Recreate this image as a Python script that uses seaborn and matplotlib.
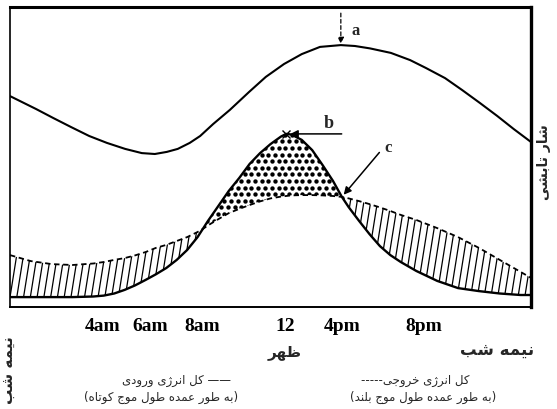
import numpy as np
import matplotlib
matplotlib.use("Agg")
import matplotlib.pyplot as plt
from matplotlib.collections import LineCollection
import seaborn as sns

# محور افقی: واحد دلخواه 0..100 (فاصله ساعت‌ها در شکل اصلی نامنظم است)
x_top = [0, 5.0, 8.3, 11.7, 15.2, 18.6, 22.1, 25.3, 27.8, 30.1, 32.2, 34.5, 36.5, 39.0, 42.2,
         45.9, 49.1, 52.6, 56.0, 59.5, 63.5, 66.2, 69.1, 73.1, 76.8, 79.8, 83.5, 86.8, 90.2,
         93.5, 96.7, 100]
y_top = [70.3, 66.0, 63.0, 60.0, 57.0, 54.7, 52.7, 51.3, 51.0, 51.7, 52.7, 54.7, 57.0, 61.0,
         65.7, 71.7, 76.7, 81.0, 84.3, 86.7, 87.3, 87.0, 86.2, 84.7, 82.3, 79.7, 76.3, 72.3,
         68.0, 63.7, 59.3, 55.0]

x_low = [0, 4, 8, 12, 16, 18, 20, 22, 24, 26, 28, 30, 32, 34, 36, 37, 38, 40, 42, 44, 46, 48,
         50, 52, 53, 54, 56, 58, 60, 62, 63.7, 65, 67, 69, 71, 73, 75, 78, 82, 86, 90, 94, 98, 100]
# کل انرژی ورودی (خط پیوسته)
y_in = [3.3, 3.3, 3.3, 3.3, 3.5, 3.8, 4.5, 5.7, 7.2, 9.0, 10.9, 13.0, 15.7, 19.0, 23.3, 26.0,
        28.7, 33.7, 38.7, 43.0, 47.7, 51.3, 54.3, 56.8, 57.7, 57.5, 55.7, 52.3, 47.3, 42.0,
        36.7, 33.3, 28.7, 24.3, 20.3, 17.3, 15.0, 12.0, 8.7, 6.3, 5.3, 4.5, 4.0, 4.0]
# کل انرژی خروجی (خط چین)
y_out = [17.3, 15.3, 14.3, 14.0, 14.5, 15.0, 15.7, 16.3, 17.2, 18.3, 19.7, 20.7, 22.0, 23.3,
         25.0, 26.0, 27.2, 29.3, 31.3, 32.7, 34.0, 35.2, 36.2, 36.8, 37.0, 37.2, 37.3, 37.3,
         37.2, 37.0, 36.7, 36.2, 35.3, 34.3, 33.2, 32.0, 30.7, 29.0, 26.3, 23.3, 19.7, 15.7,
         11.7, 9.7]

tick_pos = [17.8, 26.9, 36.8, 52.8, 63.7, 79.5]
tick_labels = ['4am', '6am', '8am', '12', '4pm', '8pm']

# حروف فارسی -> شکل‌های نمایشی (جدا، پایانی، آغازی، میانی)
FORMS = {
    'ا': (0xFE8D, 0xFE8E), 'د': (0xFEA9, 0xFEAA), 'ر': (0xFEAD, 0xFEAE),
    'ژ': (0xFB8A, 0xFB8B), 'و': (0xFEED, 0xFEEE),
    'ب': (0xFE8F, 0xFE90, 0xFE91, 0xFE92), 'ت': (0xFE95, 0xFE96, 0xFE97, 0xFE98),
    'ج': (0xFE9D, 0xFE9E, 0xFE9F, 0xFEA0), 'خ': (0xFEA5, 0xFEA6, 0xFEA7, 0xFEA8),
    'ش': (0xFEB5, 0xFEB6, 0xFEB7, 0xFEB8), 'ط': (0xFEC1, 0xFEC2, 0xFEC3, 0xFEC4),
    'ظ': (0xFEC5, 0xFEC6, 0xFEC7, 0xFEC8), 'ع': (0xFEC9, 0xFECA, 0xFECB, 0xFECC),
    'ک': (0xFB8E, 0xFB8F, 0xFB90, 0xFB91), 'ل': (0xFEDD, 0xFEDE, 0xFEDF, 0xFEE0),
    'م': (0xFEE1, 0xFEE2, 0xFEE3, 0xFEE4), 'ن': (0xFEE5, 0xFEE6, 0xFEE7, 0xFEE8),
    'ه': (0xFEE9, 0xFEEA, 0xFEEB, 0xFEEC), 'ی': (0xFBFC, 0xFBFD, 0xFBFE, 0xFBFF),
}


def fa(text):
    # matplotlib حروف را به هم نمی‌چسباند و راست به چپ نمی‌نویسد
    out = []
    for i, ch in enumerate(text):
        f = FORMS.get(ch)
        if f is None:
            out.append(ch)
            continue
        prev = text[i - 1] if i > 0 else ''
        nxt = text[i + 1] if i + 1 < len(text) else ''
        jp = prev in FORMS and len(FORMS[prev]) == 4
        jn = len(f) == 4 and nxt in FORMS
        if jp and jn:
            out.append(chr(f[3]))
        elif jp:
            out.append(chr(f[1]))
        elif jn:
            out.append(chr(f[2]))
        else:
            out.append(chr(f[0]))
    return ''.join(out)[::-1].translate(str.maketrans('()', ')('))


sns.set_style('white')
plt.rcParams['font.family'] = ['DejaVu Sans']
serif = 'Liberation Serif'

fig = plt.figure(figsize=(5.57, 4.10), dpi=100)
ax = fig.add_axes([10 / 557, 102 / 410, 521 / 557, 300 / 410])

sns.lineplot(x=x_top, y=y_top, color='black', linewidth=1.5, ax=ax)
sns.lineplot(x=x_low, y=y_in, color='black', linewidth=1.7, ax=ax)
sns.lineplot(x=x_low, y=y_out, color='black', linewidth=1.3, linestyle=(0, (3, 2)), ax=ax)

xl = np.array(x_low)
yi = np.array(y_in)
yo = np.array(y_out)
i_8 = np.flatnonzero((yi == yo) & (xl < 50))[0]
i_c = np.flatnonzero((yi == yo) & (xl > 50))[0]

# نواحی هاشور (خروجی بیشتر از ورودی)
left = ax.fill_between(xl, yi, yo, where=xl <= xl[i_8], facecolor='none', lw=0)
right = ax.fill_between(xl, yi, yo, where=xl >= xl[i_c], facecolor='none', lw=0)
segs = [[(x, 0), (x + 9.2, 100)] for x in np.arange(-12, 100, 1.3)]
for reg in (left, right):
    lc = LineCollection(segs, colors='black', linewidths=0.9)
    ax.add_collection(lc)
    lc.set_clip_path(reg.get_paths()[0], ax.transData)

# ناحیه نقطه‌چین (ورودی بیشتر از خروجی)
mid = ax.fill_between(xl, yi, yo, where=(xl >= xl[i_8]) & (xl <= xl[i_c]), facecolor='none', lw=0)
gx, gy = np.meshgrid(np.arange(34, 67, 1.3), np.arange(20, 62, 2.2))
gx = gx + (np.arange(gy.shape[0]) % 2)[:, None] * 0.65
dots = ax.scatter(gx.ravel(), gy.ravel(), s=10, color='black', lw=0)
dots.set_clip_path(mid.get_paths()[0], ax.transData)

# پیکان‌ها و برچسب‌های a, b, c
i_a = int(np.argmax(y_top))
ax.annotate('', xy=(x_top[i_a], y_top[i_a]), xytext=(0, 23), textcoords='offset points',
            arrowprops=dict(arrowstyle='-|>', color='black', lw=0.9, linestyle=(0, (3, 2)),
                            shrinkA=0, shrinkB=1, mutation_scale=9))
ax.annotate('a', xy=(x_top[i_a], y_top[i_a]), xytext=(8, 11), textcoords='offset points',
            fontsize=12, fontweight='bold', family=serif, ha='left', va='center')

i_b = int(np.argmax(y_in))
ax.plot(x_low[i_b], y_in[i_b], marker='x', ms=6, mew=1.0, color='black')
ax.annotate('', xy=(x_low[i_b], y_in[i_b]), xytext=(40, 0), textcoords='offset points',
            arrowprops=dict(arrowstyle='-|>', color='black', lw=1.1, shrinkA=0, shrinkB=3,
                            mutation_scale=11))
ax.annotate('b', xy=(x_low[i_b], y_in[i_b]), xytext=(31, 8), textcoords='offset points',
            fontsize=13, fontweight='bold', family=serif, ha='center', va='center')

ax.annotate('', xy=(x_low[i_c], y_in[i_c]), xytext=(27, 32), textcoords='offset points',
            arrowprops=dict(arrowstyle='-|>', color='black', lw=1.1, shrinkA=0, shrinkB=2,
                            mutation_scale=11))
ax.annotate('c', xy=(x_low[i_c], y_in[i_c]), xytext=(33, 36), textcoords='offset points',
            fontsize=12, fontweight='bold', family=serif, ha='center', va='center')

ax.set_xlim(0, 100)
ax.set_ylim(0, 100)
ax.set_xlabel('')
ax.set_ylabel('')
ax.set_yticks([])
ax.set_xticks(tick_pos)
ax.set_xticklabels(tick_labels, fontsize=14, fontweight='bold', family=serif)
ax.tick_params(axis='x', direction='inout', length=12, width=1.0, pad=1, colors='black')
for t, lab in zip(ax.xaxis.get_major_ticks(), tick_labels):
    t.tick1line.set_markeredgewidth(2.2 if lab in ('4am', '6am', '4pm') else 1.0)

for side, lw in [('top', 2.2), ('right', 2.4), ('left', 1.2), ('bottom', 1.4)]:
    ax.spines[side].set_visible(True)
    ax.spines[side].set_color('black')
    ax.spines[side].set_linewidth(lw)

ax.annotate(fa('ظهر'), xy=(tick_pos[3], 0), xycoords=('data', 'axes fraction'),
            xytext=(0, -32), textcoords='offset points', ha='center', va='center',
            fontsize=11, fontweight='bold')

fig.text(544 / 557, 1 - 162 / 410, fa('شار تابشی'), rotation=90, ha='center', va='center',
         fontsize=10, fontweight='bold')
fig.text(9 / 557, 1 - 370 / 410, fa('نیمه شب'), rotation=90, ha='center', va='center',
         fontsize=11, fontweight='bold')
fig.text(497 / 557, 1 - 350 / 410, fa('نیمه شب'), ha='center', va='center',
         fontsize=12, fontweight='bold')

fig.text(176 / 557, 1 - 381 / 410, fa('کل انرژی ورودی') + ' ——', ha='center', va='center',
         fontsize=8.5)
fig.text(161 / 557, 1 - 397 / 410, fa('(به طور عمده طول موج کوتاه)'), ha='center', va='center',
         fontsize=8.5)
fig.text(415 / 557, 1 - 381 / 410, '-----' + fa('کل انرژی خروجی'), ha='center', va='center',
         fontsize=8.5)
fig.text(423 / 557, 1 - 397 / 410, fa('(به طور عمده طول موج بلند)'), ha='center', va='center',
         fontsize=8.5)

fig.savefig('out.png', dpi=100, facecolor='white')
